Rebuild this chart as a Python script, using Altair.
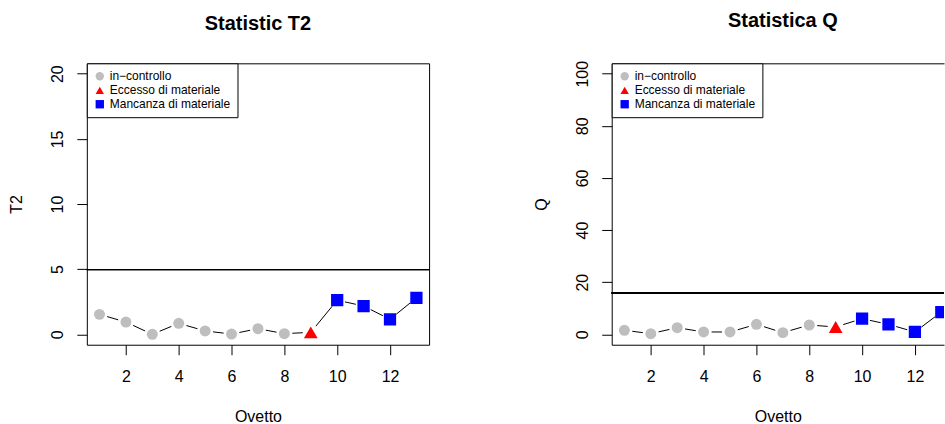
import altair as alt
import numpy as np
import pandas as pd

# ---- data ----
obs = list(range(1, 14))
status = ["in−controllo"] * 8 + ["Eccesso di materiale"] + ["Mancanza di materiale"] * 4
t2_vals = [1.53, 0.94, 0.00, 0.84, 0.26, 0.02, 0.43, 0.05, 0.15, 2.62, 2.17, 1.15, 2.80]
q_vals = [1.53, 0.25, 2.55, 0.89, 0.89, 3.82, 0.64, 3.57, 2.80, 5.99, 3.82, 0.89, 8.54]
t2_limit = 4.97
q_limit = 15.9
t2_ticks = [0, 5, 10, 15, 20]
q_ticks = [0, 20, 40, 60, 80, 100]
x_ticks = [2, 4, 6, 8, 10, 12]
categories = ["in−controllo", "Eccesso di materiale", "Mancanza di materiale"]
cat_colors = ["#BEBEBE", "#FF0000", "#0000FF"]
cat_shapes = ["circle", "triangle-up", "square"]

FONT = "Liberation Sans"
PLOT_W = 343
PLOT_H = 282
X_DOM = [0.52, 13.48]


def gap_segments(x, y, sx, sy, gap=8.0):
    rows = []
    for i in range(len(x) - 1):
        dx = (x[i + 1] - x[i]) * sx
        dy = (y[i + 1] - y[i]) * sy
        L = float(np.hypot(dx, dy))
        if L <= 2 * gap:
            continue
        f = gap / L
        rows.append({
            "x": x[i] + (x[i + 1] - x[i]) * f,
            "y": y[i] + (y[i + 1] - y[i]) * f,
            "x2": x[i + 1] - (x[i + 1] - x[i]) * f,
            "y2": y[i + 1] - (y[i + 1] - y[i]) * f,
        })
    return pd.DataFrame(rows)


def panel(vals, limit, ymax, yticks, ytitle, title, width, boxed, title_dx):
    ydom = [-0.04 * ymax, 1.04 * ymax]
    sx = PLOT_W / (X_DOM[1] - X_DOM[0])
    sy = PLOT_H / (ydom[1] - ydom[0])
    xmax = X_DOM[0] + width / sx
    df = pd.DataFrame({"Ovetto": obs, "val": vals, "stato": status})
    seg = gap_segments(obs, vals, sx, sy)

    xscale = alt.Scale(domain=[X_DOM[0], xmax], nice=False, zero=False)
    yscale = alt.Scale(domain=ydom, nice=False, zero=False)
    xaxis = alt.Axis(values=x_ticks, title="Ovetto", domain=not boxed, domainColor="black",
                     domainWidth=1,
                     tickSize=10, tickColor="black", labelColor="black", titleColor="black",
                     labelFontSize=16, titleFontSize=16, titleFontWeight="normal",
                     labelPadding=14, titlePadding=24, labelFlush=False, grid=False,
                     labelAngle=0, labelFont=FONT, titleFont=FONT)
    yaxis = alt.Axis(values=yticks, title=ytitle, domain=not boxed, domainColor="black",
                     domainWidth=1,
                     tickSize=10, tickColor="black", labelColor="black", titleColor="black",
                     labelFontSize=16, titleFontSize=16, titleFontWeight="normal",
                     labelPadding=11, titlePadding=25, labelFlush=False, grid=False,
                     labelAngle=270, labelFont=FONT, titleFont=FONT)

    limit_rule = alt.Chart(df).mark_rule(color="black", strokeWidth=1).encode(
        y=alt.Y(datum=limit, scale=yscale, axis=yaxis, title=ytitle)
    )
    segs = alt.Chart(seg).mark_rule(color="black", strokeWidth=1, clip=True).encode(
        x=alt.X("x:Q", scale=xscale, axis=None if not boxed else xaxis, title="Ovetto"),
        y=alt.Y("y:Q", scale=yscale, axis=yaxis, title=ytitle),
        x2="x2:Q", y2="y2:Q",
    )
    pts = alt.Chart(df).mark_point(filled=True, opacity=1, clip=True).encode(
        x=alt.X("Ovetto:Q", scale=xscale, axis=xaxis, title="Ovetto"),
        y=alt.Y("val:Q", scale=yscale, axis=yaxis, title=ytitle),
        color=alt.Color("stato:N", scale=alt.Scale(domain=categories, range=cat_colors),
                        legend=alt.Legend(orient="top-left", offset=0, title=None,
                                          strokeColor="black", fillColor="white",
                                          padding=7, symbolSize=70, symbolStrokeWidth=0,
                                          labelFontSize=12, labelFont=FONT, labelColor="black",
                                          labelOffset=4, rowPadding=2, cornerRadius=0)),
        shape=alt.Shape("stato:N", scale=alt.Scale(domain=categories, range=cat_shapes)),
        size={
            "condition": [
                {"test": "datum.stato === 'Eccesso di materiale'", "value": 190},
                {"test": "datum.stato === 'Mancanza di materiale'", "value": 151},
            ],
            "value": 121,
        },
    )
    layers = [limit_rule, segs, pts]
    if boxed:
        view = alt.ViewBackground(stroke="black", strokeWidth=1)
    else:
        top_axis = alt.Chart(df).mark_point(opacity=0).encode(
            x=alt.X("Ovetto:Q", scale=xscale,
                    axis=alt.Axis(orient="top", labels=False, ticks=False, title=None,
                                  domain=True, domainColor="black", domainWidth=1, grid=False)),
            y=alt.Y("val:Q", scale=yscale, axis=yaxis, title=ytitle),
        )
        layers.append(top_axis)
        view = alt.ViewBackground(stroke=None)
    out = alt.layer(*layers).properties(
        width=width, height=PLOT_H, view=view,
        title=alt.Title(title, fontSize=20, fontWeight="bold", font=FONT, color="black",
                        anchor="middle", baseline="alphabetic", offset=13, frame="group",
                        dx=title_dx),
    ).resolve_scale(color="independent", shape="independent")
    if not boxed:
        out = out.resolve_axis(x="independent")
    return out


left = panel(t2_vals, t2_limit, 20, t2_ticks, "T2", "Statistic T2", PLOT_W, True, 0)
right = panel(q_vals, q_limit, 100, q_ticks, "Q", "Statistica Q", 333, False, 5)

chart = alt.hconcat(left, right, spacing=103).resolve_scale(
    color="independent", shape="independent", x="independent", y="independent"
).resolve_legend(color="independent", shape="independent").properties(
    padding={"left": 8, "top": 11, "right": 0, "bottom": 0},
    background="white",
).configure(font=FONT)

chart.save("out.html", embed_options={"renderer": "svg", "actions": False})
